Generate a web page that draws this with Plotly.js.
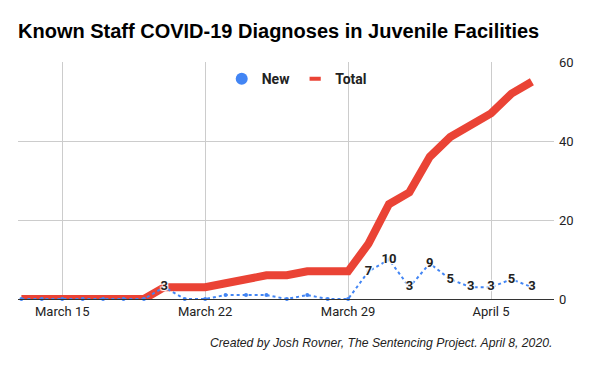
<!DOCTYPE html>
<html>
<head>
<meta charset="utf-8">
<script src="https://cdn.plot.ly/plotly-3.0.1.min.js"></script>
<style>html,body{margin:0;padding:0;background:#fff;}#chart{width:600px;height:371px;}</style>
</head>
<body>
<div id="chart"></div>
<script>
const dates = ['2020-03-13','2020-03-14','2020-03-15','2020-03-16','2020-03-17','2020-03-18','2020-03-19',
  '2020-03-20','2020-03-21','2020-03-22','2020-03-23','2020-03-24','2020-03-25','2020-03-26','2020-03-27',
  '2020-03-28','2020-03-29','2020-03-30','2020-03-31','2020-04-01','2020-04-02','2020-04-03','2020-04-04',
  '2020-04-05','2020-04-06','2020-04-07'];
const newCases = [0,0,0,0,0,0,0, 3,0,0,1,1,1,0,1, 0,0,7,10,3,9,5,3, 3,5,3];
const totalCases = [0,0,0,0,0,0,0, 3,3,3,4,5,6,6,7, 7,7,14,24,27,36,41,44, 47,52,55];
const newLabels = ['','','','','','','', '3','','','','','','','', '','','7','10','3','9','5','3', '3','5','3'];
const xTickVals = ['2020-03-15','2020-03-22','2020-03-29','2020-04-05'];
const xTickText = ['March 15','March 22','March 29','April 5'];
const yTickVals = [0,20,40,60];

const traces = [
  {x: dates, y: totalCases, type: 'scatter', mode: 'lines', name: 'Total', showlegend: false,
   line: {color: '#ea4335', width: 8}, hoverinfo: 'skip'},
  {x: dates, y: newCases, type: 'scatter', mode: 'lines+markers+text', name: 'New', showlegend: false,
   line: {color: '#4285f4', width: 2, dash: 'dot'}, marker: {color: '#4285f4', size: 4},
   text: newLabels, textposition: 'middle center', cliponaxis: false,
   textfont: {family: 'Roboto, Arial, sans-serif', size: 13, color: '#222', weight: 'bold',
     shadow: '1px 1px 1px #fff, -1px -1px 1px #fff, 1px -1px 1px #fff, -1px 1px 1px #fff'}},
  {x: [null], y: [null], type: 'scatter', mode: 'markers', name: 'New', legendrank: 1,
   marker: {color: '#4285f4', size: 12}},
  {x: [null], y: [null], type: 'scatter', mode: 'markers', name: 'Total', legendrank: 2,
   marker: {symbol: 'line-ew-open', size: 8, color: '#ea4335', line: {color: '#ea4335', width: 4}}}
];

const layout = {
  width: 600, height: 371,
  margin: {l: 18, r: 46, t: 62, b: 72},
  paper_bgcolor: '#fff', plot_bgcolor: '#fff',
  font: {family: 'Roboto, Arial, sans-serif', color: '#222'},
  title: {text: 'Known Staff COVID-19 Diagnoses in Juvenile Facilities',
    font: {family: 'Liberation Sans, Arial, sans-serif', size: 20, color: '#000', weight: 'bold'},
    x: 18/600, xref: 'container', xanchor: 'left', y: 1 - 31/371, yref: 'container', yanchor: 'middle'},
  showlegend: true,
  legend: {orientation: 'h', x: 0.52, xanchor: 'center', y: 0.928, yanchor: 'middle',
    bgcolor: 'rgba(0,0,0,0)', font: {size: 14, color: '#222', weight: 'bold'}, itemwidth: 30},
  xaxis: {type: 'date', range: ['2020-03-12 20:00', '2020-04-08 02:00'],
    tickvals: xTickVals, ticktext: xTickText, showgrid: true, gridcolor: '#ccc',
    showline: true, linecolor: '#333', linewidth: 1, ticks: '', zeroline: false,
    tickfont: {size: 13, color: '#222'}},
  yaxis: {side: 'right', range: [0, 60], tickvals: yTickVals, showgrid: true, gridcolor: '#ccc',
    zeroline: false, ticks: '', showline: false, ticklabelstandoff: 4, tickfont: {size: 13, color: '#222'}},
  annotations: [{text: 'Created by Josh Rovner, The Sentencing Project. April 8, 2020.',
    xref: 'paper', yref: 'paper', x: 1, xanchor: 'right', y: (299-343)/237, yanchor: 'middle',
    showarrow: false, font: {family: 'Liberation Sans, Arial, sans-serif', size: 12.2, color: '#222', style: 'italic'}}]
};

Plotly.newPlot('chart', traces, layout, {displayModeBar: false, staticPlot: true});
</script>
</body>
</html>
